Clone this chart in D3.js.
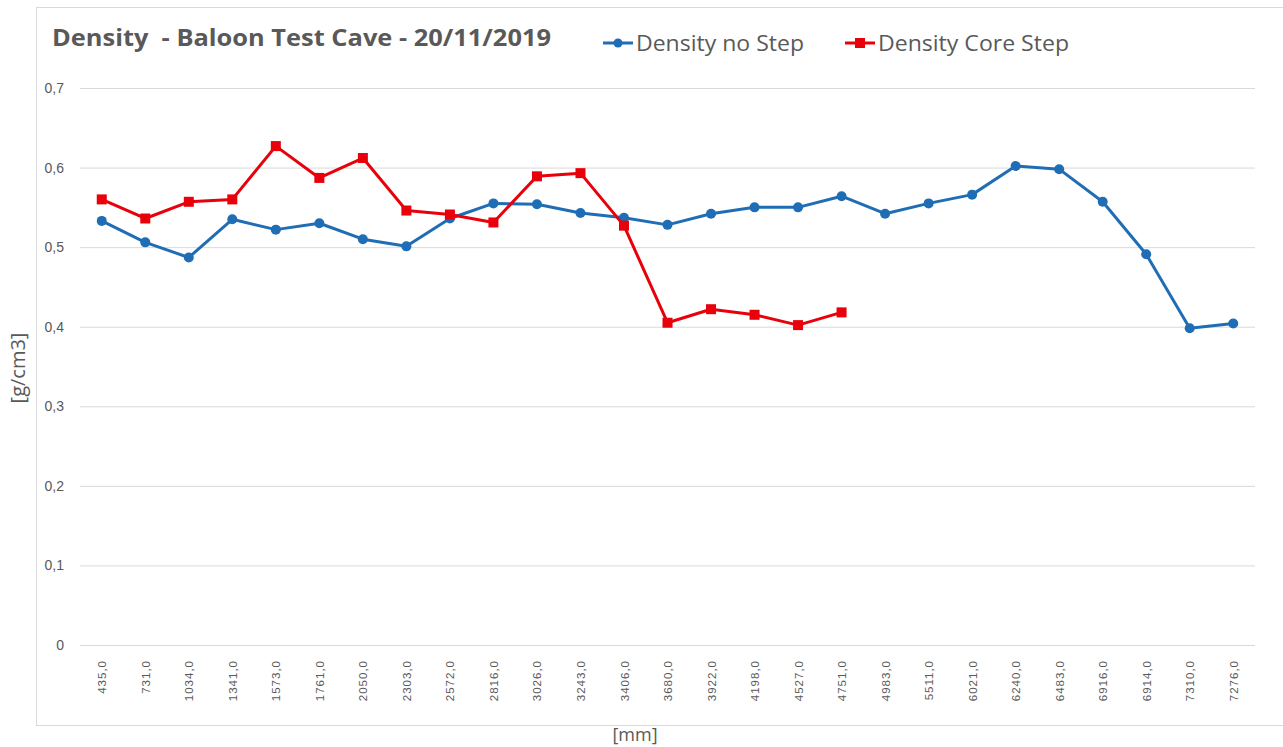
<!DOCTYPE html>
<html>
<head>
<meta charset="utf-8">
<script src="https://cdn.jsdelivr.net/npm/d3@7"></script>
<style>
  body { margin: 0; background: #fff; }
  svg { display: block; font-family: "Open Sans", "Liberation Sans", sans-serif; }
</style>
</head>
<body>
<svg id="chart" width="1283" height="747"></svg>
<script>
// x categories (depth in mm)
var categories = ["435,0","731,0","1034,0","1341,0","1573,0","1761,0","2050,0","2303,0","2572,0",
  "2816,0","3026,0","3243,0","3406,0","3680,0","3922,0","4198,0","4527,0","4751,0","4983,0",
  "5511,0","6021,0","6240,0","6483,0","6916,0","6914,0","7310,0","7276,0"];

var densityNoStep = [0.533,0.506,0.487,0.535,0.522,0.530,0.510,0.501,0.536,0.555,0.554,0.543,
  0.537,0.528,0.542,0.550,0.550,0.564,0.542,0.555,0.566,0.602,0.598,0.557,0.491,0.398,0.404];

var densityCoreStep = [0.560,0.536,0.557,0.560,0.627,0.587,0.612,0.546,0.541,0.531,0.589,0.593,
  0.527,0.405,0.422,0.415,0.402,0.418];

var yTicks = [0,0.1,0.2,0.3,0.4,0.5,0.6,0.7];

var blue = "#1f6db4", red = "#e8000b", grid = "#d9d9d9", textCol = "#595959";

var svg = d3.select("#chart");

// outer chart frame
svg.append("rect")
  .attr("x", 36.5).attr("y", 7.5)
  .attr("width", 1300).attr("height", 718)
  .attr("fill", "none").attr("stroke", grid);

var x = d3.scalePoint()
  .domain(d3.range(categories.length))
  .range([80, 1255])
  .padding(0.5);

var y = d3.scaleLinear()
  .domain([0, 0.7])
  .range([645, 88]);

var fmt = function(d){ return d === 0 ? "0" : d.toFixed(1).replace(".", ","); };

// gridlines + y labels
var yAxis = d3.axisLeft(y)
  .tickValues(yTicks)
  .tickSize(-1175)
  .tickPadding(16)
  .tickFormat(fmt);

var gy = svg.append("g")
  .attr("transform", "translate(80,0)")
  .call(yAxis);
gy.select(".domain").remove();
gy.selectAll(".tick line").attr("stroke", grid).attr("stroke-width", 1);
gy.selectAll(".tick text")
  .attr("fill", textCol)
  .style("font-size", "14px")
  .attr("x", -16);

// x labels
var xAxis = d3.axisBottom(x)
  .tickSize(0)
  .tickFormat(function(i){ return categories[i]; });

var gx = svg.append("g")
  .attr("transform", "translate(0,645)")
  .call(xAxis);
gx.select(".domain").remove();
gx.selectAll(".tick text")
  .attr("fill", textCol)
  .style("font-size", "11.5px")
  .style("letter-spacing", "1px")
  .attr("text-anchor", "end")
  .attr("dy", "0.35em")
  .attr("y", 0)
  .attr("transform", "translate(0,15) rotate(-90)");

// lines
var line = d3.line()
  .x(function(d, i){ return x(i); })
  .y(function(d){ return y(d); });

svg.append("path")
  .datum(densityNoStep)
  .attr("fill", "none")
  .attr("stroke", blue)
  .attr("stroke-width", 3)
  .attr("stroke-linejoin", "round")
  .attr("d", line);

svg.append("g").selectAll("circle")
  .data(densityNoStep)
  .enter().append("circle")
  .attr("cx", function(d, i){ return x(i); })
  .attr("cy", function(d){ return y(d); })
  .attr("r", 5)
  .attr("fill", blue);

svg.append("path")
  .datum(densityCoreStep)
  .attr("fill", "none")
  .attr("stroke", red)
  .attr("stroke-width", 3)
  .attr("stroke-linejoin", "round")
  .attr("d", line);

svg.append("g").selectAll("rect")
  .data(densityCoreStep)
  .enter().append("rect")
  .attr("x", function(d, i){ return x(i) - 5; })
  .attr("y", function(d){ return y(d) - 5; })
  .attr("width", 10).attr("height", 10)
  .attr("fill", red);

// title
svg.append("text")
  .attr("x", 52).attr("y", 46)
  .attr("fill", textCol)
  .style("font-size", "23px")
  .style("font-weight", "bold")
  .style("white-space", "pre")
  .attr("textLength", 499)
  .attr("lengthAdjust", "spacingAndGlyphs")
  .text("Density  - Baloon Test Cave - 20/11/2019");

// legend
var legend = [
  {name: "Density no Step", color: blue, shape: "circle", x: 603, tw: 168},
  {name: "Density Core Step", color: red, shape: "square", x: 845, tw: 191}
];
legend.forEach(function(l){
  var g = svg.append("g").attr("transform", "translate(" + l.x + ",43)");
  g.append("line").attr("x1", 0).attr("x2", 30).attr("y1", 0).attr("y2", 0)
    .attr("stroke", l.color).attr("stroke-width", 3);
  if (l.shape === "circle") {
    g.append("circle").attr("cx", 15).attr("cy", 0).attr("r", 4.5).attr("fill", l.color);
  } else {
    g.append("rect").attr("x", 10).attr("y", -5).attr("width", 10).attr("height", 10).attr("fill", l.color);
  }
  g.append("text")
    .attr("x", 33).attr("y", 8)
    .attr("fill", textCol)
    .style("font-size", "21px")
    .attr("textLength", l.tw)
    .attr("lengthAdjust", "spacingAndGlyphs")
    .text(l.name);
});

// axis titles
svg.append("text")
  .attr("transform", "translate(25,368) rotate(-90)")
  .attr("text-anchor", "middle")
  .attr("fill", textCol)
  .style("font-size", "20px")
  .text("[g/cm3]");

svg.append("text")
  .attr("x", 635).attr("y", 741)
  .attr("text-anchor", "middle")
  .attr("fill", textCol)
  .style("font-size", "18px")
  .text("[mm]");
</script>
</body>
</html>
